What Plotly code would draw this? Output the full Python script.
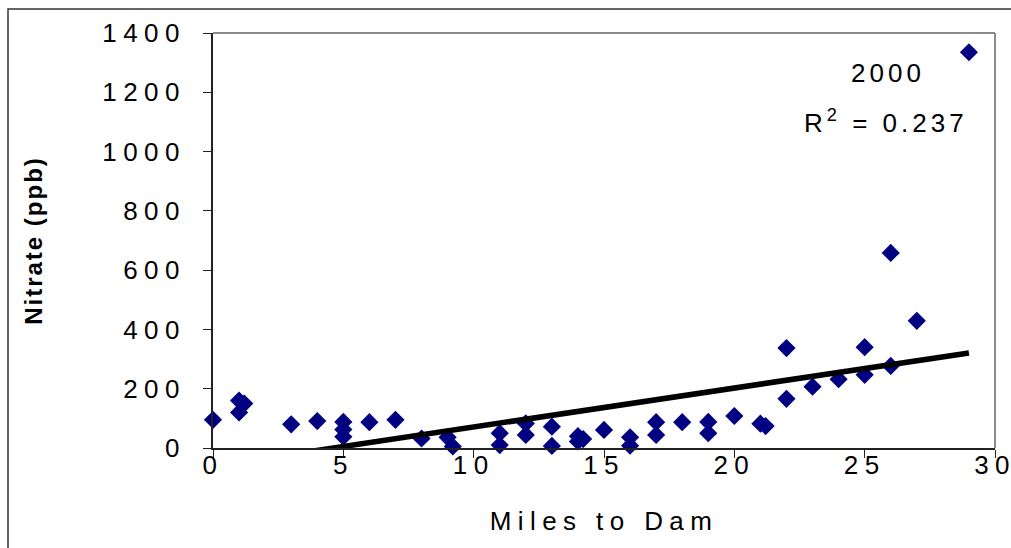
import numpy as np
import plotly.graph_objects as go

# Data
miles = [0, 1, 1.2, 1, 3, 4, 5, 5, 5, 6, 7, 8, 9, 9.2, 11, 11, 12, 12, 13, 13,
         14, 14.2, 14, 15, 16, 16, 17, 17, 18, 19, 19, 20, 21, 21.2, 22, 22,
         23, 24, 25, 25, 26, 26, 27, 29]
nitrate = [95, 160, 150, 120, 80, 91, 88, 62, 38, 87, 95, 32, 36, 5, 50, 10, 83, 44, 72, 7,
           40, 30, 22, 61, 36, 8, 87, 44, 87, 88, 50, 108, 82, 74, 166, 337,
           207, 232, 247, 340, 277, 658, 429, 1335]

# Linear trendline as shown in the chart
trend_slope = 13.15
trend_intercept = -60.7
r_squared = "0.237"
year_label = "2000"

x_ticks = [0, 5, 10, 15, 20, 25, 30]
y_ticks = [0, 200, 400, 600, 800, 1000, 1200, 1400]

FONT = "Liberation Sans, Arial, sans-serif"

trend_x = np.array([min(miles), max(miles)], dtype=float)
trend_y = trend_slope * trend_x + trend_intercept

fig = go.Figure()
fig.add_trace(go.Scatter(
    x=miles, y=nitrate, mode="markers",
    marker=dict(symbol="diamond", size=14, color="#000080", line=dict(width=0)),
    showlegend=False, cliponaxis=False,
))
fig.add_trace(go.Scatter(
    x=trend_x, y=trend_y, mode="lines",
    line=dict(color="black", width=5.5),
    showlegend=False,
))

fig.update_layout(
    width=1011, height=548,
    margin=dict(l=213, r=16, t=33, b=100, autoexpand=False),
    paper_bgcolor="white", plot_bgcolor="white",
    font=dict(family=FONT, size=26, color="black"),
    xaxis=dict(
        range=[0, 30], tickvals=x_ticks, ticks="outside", ticklen=8, tickwidth=1,
        tickcolor="#222", showgrid=False, zeroline=False,
        showline=True, linecolor="#222", linewidth=2, automargin=False,
        tickfont=dict(family=FONT, size=26), ticklabelstandoff=-15,
        title=dict(text="Miles to Dam", font=dict(family=FONT, size=26), standoff=33),
    ),
    yaxis=dict(
        range=[0, 1400], tickvals=y_ticks, ticks="outside", ticklen=8, tickwidth=1,
        tickcolor="#222", showgrid=False, zeroline=False,
        showline=True, linecolor="#222", linewidth=2, automargin=False,
        tickfont=dict(family=FONT, size=26), ticklabelstandoff=12,
        title=dict(text="<b>Nitrate (ppb)</b>", font=dict(family=FONT, size=24), standoff=79),
    ),
    shapes=[
        # plot-area frame (top and right, grey)
        dict(type="line", xref="paper", yref="paper", x0=0, x1=1, y0=1, y1=1,
             line=dict(color="#8c8c8c", width=2)),
        dict(type="line", xref="paper", yref="paper", x0=1, x1=1, y0=0, y1=1,
             line=dict(color="#8c8c8c", width=2)),
        # outer chart border (top and left visible)
        dict(type="rect", xref="paper", yref="paper",
             x0=(8 - 213) / 782, x1=(1020 - 213) / 782,
             y0=(448 - 560) / 415, y1=(448 - 9) / 415,
             line=dict(color="#333", width=1.5), layer="below"),
    ],
    annotations=[
        dict(x=25.9, y=1265, xref="x", yref="y", text=year_label, showarrow=False,
             font=dict(family=FONT, size=26)),
        dict(x=25.8, y=1102, xref="x", yref="y", text="R<sup>2</sup> = " + r_squared,
             showarrow=False, font=dict(family=FONT, size=26)),
    ],
)

# Wide letter spacing as in the original chart's text rendering
spacing_js = """
(function(){
  var gd = document.getElementById('{plot_id}');
  function f(){
    gd.querySelectorAll('.xtick text, .ytick text').forEach(function(t){ t.style.letterSpacing = '6.4px'; });
    gd.querySelectorAll('.xtitle').forEach(function(t){ t.style.letterSpacing = '6.4px'; });
    gd.querySelectorAll('.annotation-text').forEach(function(t){ t.style.letterSpacing = '4px'; });
    gd.querySelectorAll('.ytitle').forEach(function(t){ t.style.letterSpacing = '2px'; });
  }
  f();
  if (gd.on) { gd.on('plotly_afterplot', f); }
  setTimeout(f, 50);
})();
"""

fig.write_html("out.html", post_script=spacing_js)
